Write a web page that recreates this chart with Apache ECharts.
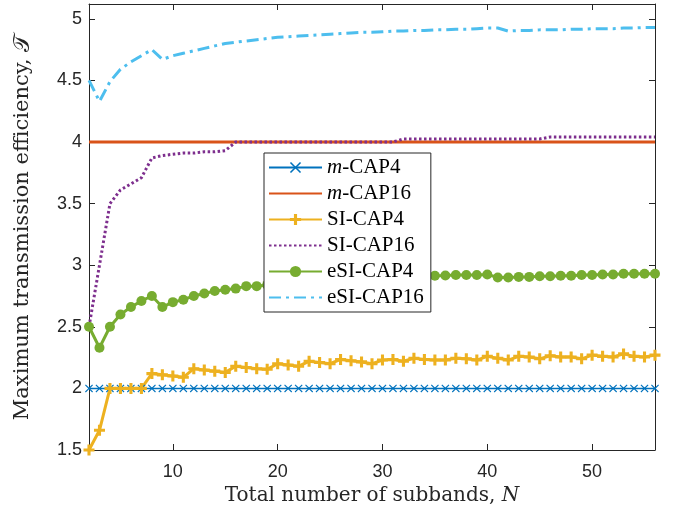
<!DOCTYPE html>
<html>
<head>
<meta charset="utf-8">
<script src="https://cdn.jsdelivr.net/npm/echarts@6/dist/echarts.min.js"></script>
<style>
  html, body { margin: 0; padding: 0; background: #fff; }
  #main { width: 681px; height: 511px; }
</style>
</head>
<body>
<div id="main"></div>
<script>
// number of subbands N
const subbands = [2, 3, 4, 5, 6, 7, 8, 9, 10, 11, 12, 13, 14, 15, 16, 17, 18, 19, 20, 21, 22, 23, 24, 25, 26, 27, 28, 29,
  30, 31, 32, 33, 34, 35, 36, 37, 38, 39, 40, 41, 42, 43, 44, 45, 46, 47, 48, 49, 50, 51, 52, 53, 54, 55, 56];

const mCap4 = [2, 2, 2, 2, 2, 2, 2, 2, 2, 2, 2, 2, 2, 2, 2, 2, 2, 2, 2, 2, 2, 2, 2, 2, 2, 2, 2, 2,
  2, 2, 2, 2, 2, 2, 2, 2, 2, 2, 2, 2, 2, 2, 2, 2, 2, 2, 2, 2, 2, 2, 2, 2, 2, 2, 2];

const mCap16 = [4, 4, 4, 4, 4, 4, 4, 4, 4, 4, 4, 4, 4, 4, 4, 4, 4, 4, 4, 4, 4, 4, 4, 4, 4, 4, 4, 4,
  4, 4, 4, 4, 4, 4, 4, 4, 4, 4, 4, 4, 4, 4, 4, 4, 4, 4, 4, 4, 4, 4, 4, 4, 4, 4, 4];

const siCap4 = [1.50, 1.66, 2.00, 2.00, 2.00, 2.00, 2.12, 2.11, 2.10, 2.09, 2.16, 2.15, 2.14, 2.13, 2.18, 2.17, 2.16, 2.155,
  2.20, 2.19, 2.18, 2.22, 2.21, 2.20, 2.235, 2.225, 2.215, 2.20, 2.23, 2.235, 2.22, 2.245, 2.235, 2.23, 2.23, 2.245,
  2.24, 2.23, 2.26, 2.245, 2.23, 2.26, 2.255, 2.24, 2.265, 2.255, 2.255, 2.24, 2.27, 2.26, 2.255, 2.28, 2.26, 2.255, 2.27];

const siCap16 = [2.50, 3.00, 3.50, 3.61, 3.66, 3.71, 3.87, 3.89, 3.90, 3.91, 3.91, 3.92, 3.92, 3.93, 4.00, 4.00, 4.00, 4.00,
  4.00, 4.00, 4.00, 4.00, 4.00, 4.00, 4.00, 4.00, 4.00, 4.00, 4.00, 4.00, 4.025, 4.025, 4.025, 4.025, 4.025, 4.025,
  4.025, 4.025, 4.025, 4.025, 4.025, 4.025, 4.025, 4.025, 4.04, 4.04, 4.04, 4.04, 4.04, 4.04, 4.04, 4.04, 4.04, 4.04, 4.04];

const esiCap4 = [2.50, 2.33, 2.50, 2.60, 2.66, 2.71, 2.75, 2.66, 2.70, 2.72, 2.75, 2.77, 2.79, 2.80, 2.81, 2.83, 2.83, 2.84,
  2.85, 2.86, 2.86, 2.87, 2.87, 2.88, 2.88, 2.89, 2.89, 2.89, 2.90, 2.90, 2.90, 2.91, 2.91, 2.915, 2.916, 2.92,
  2.92, 2.92, 2.925, 2.90, 2.90, 2.905, 2.905, 2.91, 2.91, 2.915, 2.915, 2.92, 2.92, 2.925, 2.925, 2.93, 2.93, 2.93, 2.93];

const esiCap16 = [4.50, 4.33, 4.49, 4.59, 4.65, 4.70, 4.75, 4.67, 4.70, 4.72, 4.74, 4.76, 4.78, 4.80, 4.81, 4.82, 4.83, 4.84,
  4.85, 4.855, 4.86, 4.865, 4.87, 4.875, 4.88, 4.885, 4.89, 4.89, 4.895, 4.90, 4.90, 4.905, 4.905, 4.91, 4.91, 4.915,
  4.915, 4.92, 4.925, 4.925, 4.90, 4.905, 4.905, 4.91, 4.91, 4.91, 4.915, 4.915, 4.92, 4.92, 4.92, 4.925, 4.925, 4.93, 4.93];

const xTicks = [10, 20, 30, 40, 50];
const yTicks = [1.5, 2, 2.5, 3, 3.5, 4, 4.5, 5];

const names = ['m-CAP4', 'm-CAP16', 'SI-CAP4', 'SI-CAP16', 'eSI-CAP4', 'eSI-CAP16'];
const noMarker = ['m-CAP16', 'SI-CAP16', 'eSI-CAP16'];

const crossSymbol = 'path://M0,1L1,0L5,4L9,0L10,1L6,5L10,9L9,10L5,6L1,10L0,9L4,5Z';
const plusSymbol = 'path://M3.6,0H6.4V3.6H10V6.4H6.4V10H3.6V6.4H0V3.6H3.6Z';

const pairs = (vals) => vals.map((v, i) => [subbands[i], v]);

const axisColor = '#262626';
const serif = '"Liberation Serif", "DejaVu Serif", serif';
const nameFont = '"DejaVu Serif", serif';
const sans = '"Liberation Sans", Arial, sans-serif';

const chart = echarts.init(document.getElementById('main'));

const option = {
  animation: false,
  backgroundColor: '#fff',
  grid: { left: 89, right: 26, top: 4, bottom: 61 },
  legend: {
    orient: 'vertical',
    left: 264,
    top: 153,
    data: names.map((n) => noMarker.includes(n) ? { name: n, itemStyle: { opacity: 0 } } : { name: n }),
    backgroundColor: '#fff',
    borderColor: axisColor,
    borderWidth: 1,
    borderRadius: 0,
    padding: [4, 7, 4, 4],
    itemWidth: 53,
    itemHeight: 14,
    itemGap: 5,
    formatter: (name) => name.startsWith('m-') ? '{i|m}{n|-' + name.slice(2) + '}' : '{n|' + name + '}',
    textStyle: {
      fontFamily: serif,
      fontSize: 21,
      color: '#000',
      rich: {
        i: { fontFamily: serif, fontSize: 21, fontStyle: 'italic', color: '#000', lineHeight: 21 },
        n: { fontFamily: serif, fontSize: 21, color: '#000', lineHeight: 21 }
      }
    }
  },
  xAxis: [{
    type: 'value',
    min: 2,
    max: 56,
    name: '{n|Total number of subbands, }{i|N}',
    nameLocation: 'middle',
    nameGap: 31,
    nameTextStyle: {
      rich: {
        n: { fontFamily: nameFont, fontSize: 20, color: axisColor },
        i: { fontFamily: nameFont, fontSize: 20, fontStyle: 'italic', color: axisColor }
      }
    },
    axisLine: { lineStyle: { color: axisColor, width: 1 } },
    axisTick: { inside: true, length: 6, customValues: xTicks, lineStyle: { color: axisColor } },
    axisLabel: { customValues: xTicks, fontFamily: sans, fontSize: 18, color: axisColor, margin: 13 },
    splitLine: { show: false }
  }, {
    type: 'value',
    position: 'top',
    min: 2,
    max: 56,
    axisLine: { onZero: false, lineStyle: { color: axisColor, width: 1 } },
    axisTick: { inside: true, length: 6, customValues: xTicks, lineStyle: { color: axisColor } },
    axisLabel: { show: false },
    splitLine: { show: false }
  }],
  yAxis: [{
    type: 'value',
    min: 1.5,
    max: 5.12,
    name: '{n|Maximum transmission efficiency, }{i|𝒯}',
    nameLocation: 'middle',
    nameGap: 55,
    nameTextStyle: {
      rich: {
        n: { fontFamily: nameFont, fontSize: 21, color: axisColor },
        i: { fontFamily: serif, fontSize: 23, color: axisColor }
      }
    },
    axisLine: { show: true, lineStyle: { color: axisColor, width: 1 } },
    axisTick: { show: true, inside: true, length: 6, customValues: yTicks, lineStyle: { color: axisColor } },
    axisLabel: { customValues: yTicks, fontFamily: sans, fontSize: 18, color: axisColor, margin: 7 },
    splitLine: { show: false }
  }, {
    type: 'value',
    position: 'right',
    min: 1.5,
    max: 5.12,
    axisLine: { show: true, onZero: false, lineStyle: { color: axisColor, width: 1 } },
    axisTick: { show: true, inside: true, length: 6, customValues: yTicks, lineStyle: { color: axisColor } },
    axisLabel: { show: false },
    splitLine: { show: false }
  }],
  series: [
    {
      name: names[0], type: 'line', data: pairs(mCap4),
      symbol: crossSymbol, symbolSize: 8, showAllSymbol: true,
      lineStyle: { color: '#0072BD', width: 1.5 },
      itemStyle: { color: '#0072BD' }
    },
    {
      name: names[1], type: 'line', data: pairs(mCap16),
      showSymbol: false, symbol: 'none',
      lineStyle: { color: '#D95319', width: 3 },
      itemStyle: { color: '#D95319' }
    },
    {
      name: names[2], type: 'line', data: pairs(siCap4),
      symbol: plusSymbol, symbolSize: 11, showAllSymbol: true,
      lineStyle: { color: '#EDB120', width: 3 },
      itemStyle: { color: '#EDB120' }
    },
    {
      name: names[3], type: 'line', data: pairs(siCap16),
      showSymbol: false, symbol: 'none',
      lineStyle: { color: '#7E2F8E', width: 3, type: [2.5, 2.5] },
      itemStyle: { color: '#7E2F8E' }
    },
    {
      name: names[4], type: 'line', data: pairs(esiCap4),
      symbol: 'circle', symbolSize: 10, showAllSymbol: true,
      lineStyle: { color: '#77AC30', width: 3 },
      itemStyle: { color: '#77AC30' }
    },
    {
      name: names[5], type: 'line', data: pairs(esiCap16),
      showSymbol: false, symbol: 'none',
      lineStyle: { color: '#4DBEEE', width: 3, type: [12, 5, 3, 5] },
      itemStyle: { color: '#4DBEEE' }
    }
  ]
};

chart.setOption(option);
</script>
</body>
</html>
